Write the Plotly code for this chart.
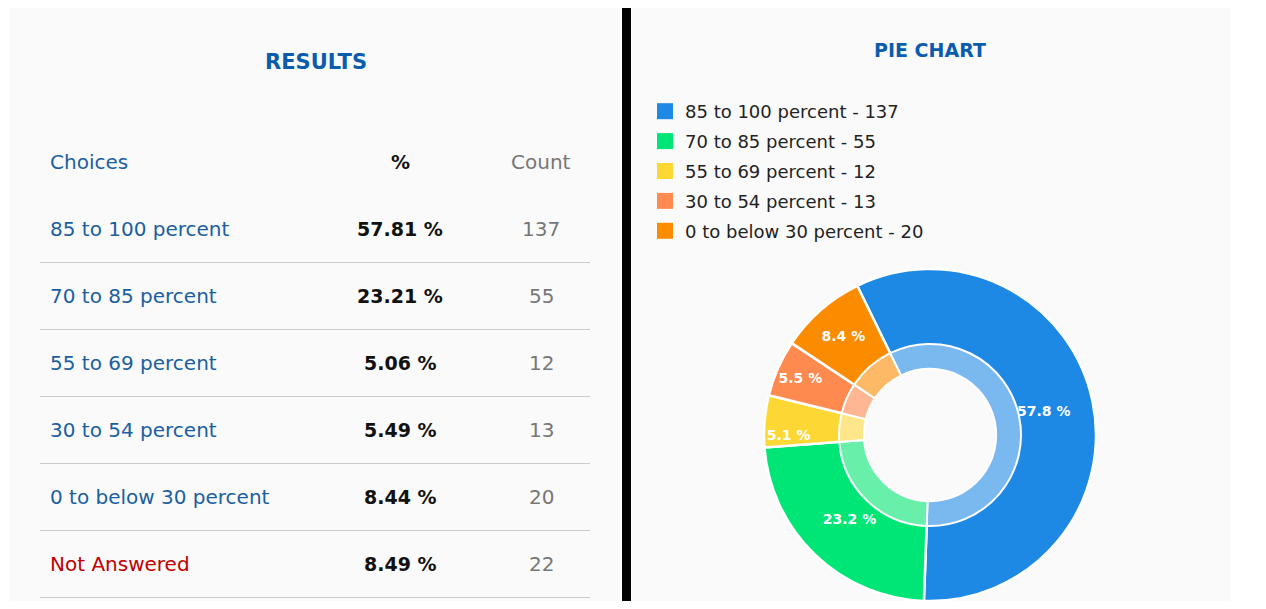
import plotly.graph_objects as go

# data
choices = ["85 to 100 percent", "70 to 85 percent", "55 to 69 percent",
           "30 to 54 percent", "0 to below 30 percent", "Not Answered"]
table_pct = [57.81, 23.21, 5.06, 5.49, 8.44, 8.49]
counts = [137, 55, 12, 13, 20, 22]

pie_labels = choices[:5]
pie_counts = counts[:5]
pie_pct = [57.8, 23.2, 5.1, 5.5, 8.4]

colors = ["#1E88E5", "#00E676", "#FDD835", "#FF8A50", "#FB8C00"]
light_colors = ["#7AB8F0", "#68F0AA", "#FEE78A", "#FFB692", "#FDBA66"]

W, H = 1250, 593
OFF = 8  # body margin of the page


def px(x):
    return (x - OFF) / W


def py(y):
    return 1 - (y - OFF) / H


BLUE = "#1a5fa0"
TITLE_BLUE = "#0b5cad"
FONT = "DejaVu Sans"

fig = go.Figure()

# pie: outer ring with labels + lighter inner ring
cx, cy = 930, 435
R_OUT, R_IN = 166, 91


def dom(r):
    return dict(x=[px(cx - r), px(cx + r)], y=[py(cy + r), py(cy - r)])


fig.add_trace(go.Pie(
    labels=pie_labels, values=pie_counts, customdata=pie_pct,
    sort=False, direction="clockwise", rotation=-26, hole=0.40,
    marker=dict(colors=colors, line=dict(color="white", width=2.5)),
    texttemplate="<b>%{customdata:.1f} %</b>", textposition="inside",
    insidetextorientation="horizontal",
    textfont=dict(color="white", size=14, family=FONT),
    domain=dom(R_OUT), showlegend=False, hoverinfo="skip",
))
fig.add_trace(go.Pie(
    labels=pie_labels, values=pie_counts,
    sort=False, direction="clockwise", rotation=-26, hole=0.727,
    marker=dict(colors=light_colors, line=dict(color="white", width=2)),
    textinfo="none", domain=dom(R_IN), showlegend=False, hoverinfo="skip",
))

# legend entries
for lab, cnt, col in zip(pie_labels, pie_counts, colors):
    fig.add_trace(go.Scatter(
        x=[None], y=[None], mode="markers", name=f"{lab} - {cnt}",
        legendgroup=lab,
        marker=dict(symbol="square", size=16, color=col),
    ))

shapes = [
    dict(type="rect", xref="paper", yref="paper", x0=px(10), x1=px(620),
         y0=py(609), y1=py(8), fillcolor="#fafafa", line_width=0, layer="below"),
    dict(type="rect", xref="paper", yref="paper", x0=px(632), x1=px(1230),
         y0=py(609), y1=py(8), fillcolor="#fafafa", line_width=0, layer="below"),
    dict(type="rect", xref="paper", yref="paper", x0=px(622), x1=px(631),
         y0=py(609), y1=1, fillcolor="black", line_width=0, layer="below"),
]

ann = [
    dict(text="<b>RESULTS</b>", x=px(316), y=py(62),
         font=dict(size=21, color=TITLE_BLUE, family=FONT)),
    dict(text="<b>PIE CHART</b>", x=px(930), y=py(50),
         font=dict(size=19, color=TITLE_BLUE, family=FONT)),
    dict(text="Choices", x=px(48), y=py(162), xanchor="left",
         font=dict(size=20, color=BLUE, family=FONT)),
    dict(text="<b>%</b>", x=px(400), y=py(162),
         font=dict(size=19, color="#111", family=FONT)),
    dict(text="Count", x=px(541), y=py(162),
         font=dict(size=20, color="#777", family=FONT)),
]

ROW0, ROW_H = 229, 67
for i, (ch, p, c) in enumerate(zip(choices, table_pct, counts)):
    yc = ROW0 + ROW_H * i
    ch_color = "#c00000" if ch == "Not Answered" else BLUE
    ann.append(dict(text=ch, x=px(48), y=py(yc), xanchor="left",
                    font=dict(size=20, color=ch_color, family=FONT)))
    ann.append(dict(text=f"<b>{p:.2f} %</b>", x=px(400), y=py(yc),
                    font=dict(size=19, color="#111", family=FONT)))
    ann.append(dict(text=str(c), x=px(541), y=py(yc),
                    font=dict(size=20, color="#777", family=FONT)))
    ly = yc + ROW_H / 2
    shapes.append(dict(type="line", xref="paper", yref="paper",
                       x0=px(40), x1=px(590), y0=py(ly), y1=py(ly),
                       line=dict(color="#cccccc", width=1)))

for a in ann:
    a.update(xref="paper", yref="paper", showarrow=False)
    a.setdefault("xanchor", "center")
    a["yanchor"] = "middle"

fig.update_layout(
    width=W, height=H,
    margin=dict(l=0, r=0, t=0, b=0),
    paper_bgcolor="white", plot_bgcolor="rgba(0,0,0,0)",
    xaxis=dict(visible=False, domain=[0.99, 1]),
    yaxis=dict(visible=False, domain=[0.99, 1]),
    shapes=shapes, annotations=ann,
    legend=dict(x=px(645), y=py(93), xanchor="left", yanchor="top",
                font=dict(size=18, color="#222", family=FONT),
                bgcolor="rgba(0,0,0,0)", tracegroupgap=3.5,
                itemclick=False),
)

fig.write_html("out.html")
